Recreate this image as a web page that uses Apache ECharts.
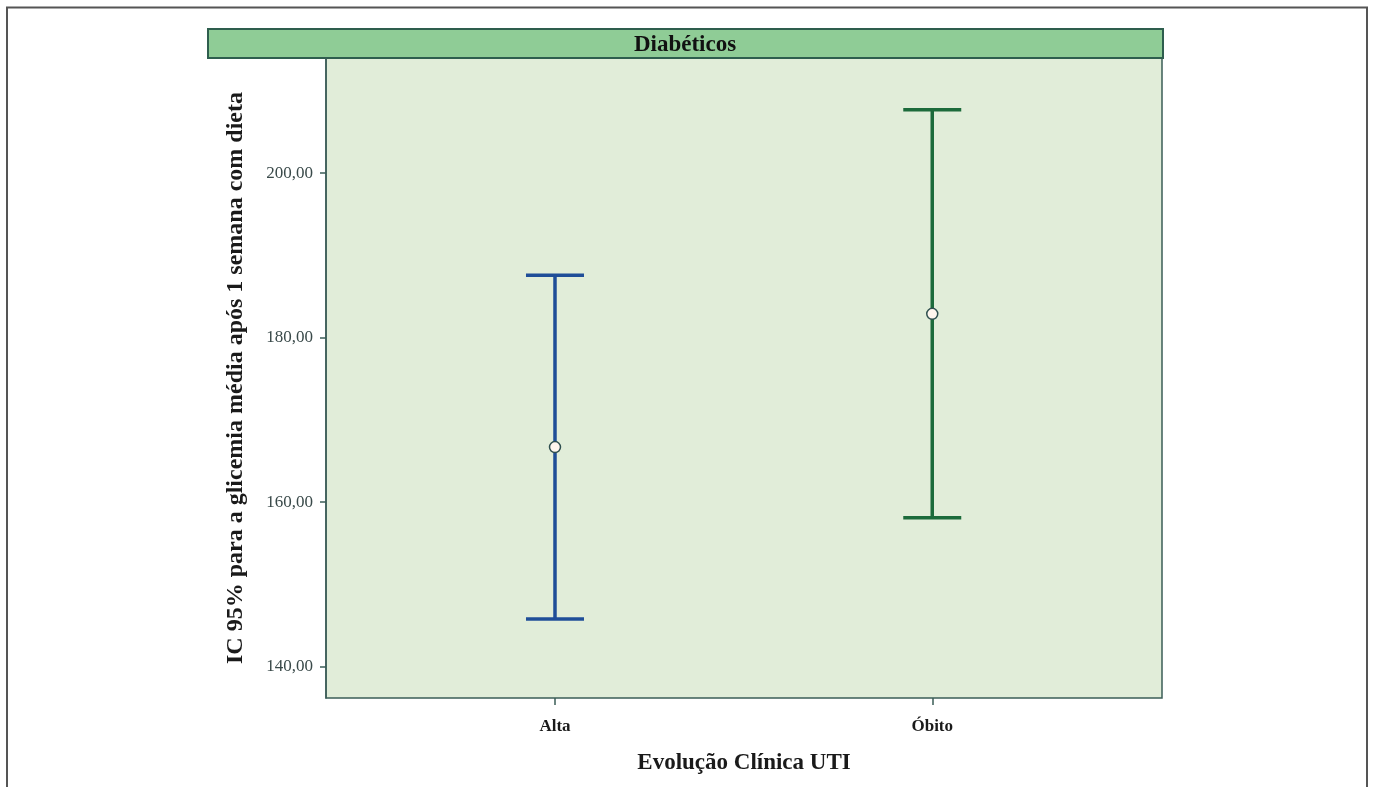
<!DOCTYPE html>
<html>
<head>
<meta charset="utf-8">
<title>Diabéticos</title>
<script src="https://cdn.jsdelivr.net/npm/echarts@6/dist/echarts.min.js"></script>
<style>
  html, body { margin: 0; padding: 0; background: #fff; }
  #chart_box { width: 1373px; height: 787px; }
</style>
</head>
<body>
<div id="chart_box"></div>
<script>
// dados (IC 95%)
const categories = ['Alta', 'Óbito'];
const means = [166.7, 182.9];
const lower = [145.8, 158.1];
const upper = [187.6, 207.7];
const yTicks = [140, 160, 180, 200];
const barColors = ['#1F4E98', '#1C6B3B'];

let myChart = echarts.init(document.getElementById('chart_box'));

let errData = categories.map(function (c, i) {
    return [i, lower[i], upper[i]];
});
let meanData = categories.map(function (c, i) {
    return [i, means[i]];
});

let myOption = {
    backgroundColor: '#fff',
    animation: false,
    grid: {
        left: 326,
        right: 211,
        top: 58,
        bottom: 89,
        show: true,
        backgroundColor: '#E1EDD9',
        borderColor: '#3B5D57',
        borderWidth: 1.5
    },
    graphic: [
        {
            type: 'rect',
            shape: { x: 7, y: 7.5, width: 1360, height: 900 },
            style: { fill: 'none', stroke: '#555', lineWidth: 2 }
        },
        {
            type: 'rect',
            shape: { x: 208, y: 29, width: 955, height: 29 },
            style: { fill: '#8FCC96', stroke: '#2E5E4E', lineWidth: 2 }
        },
        {
            type: 'text',
            x: 685,
            y: 45,
            style: {
                text: 'Diabéticos',
                font: 'bold 23px "Liberation Serif"',
                fill: '#111',
                align: 'center',
                verticalAlign: 'middle'
            }
        }
    ],
    xAxis: {
        type: 'value',
        min: -0.607,
        max: 1.609,
        name: 'Evolução Clínica UTI',
        nameLocation: 'middle',
        nameGap: 54,
        nameTextStyle: {
            fontFamily: 'Liberation Serif',
            fontWeight: 'bold',
            fontSize: 23,
            color: '#1a1a1a'
        },
        splitLine: { show: false },
        axisLine: { show: false, onZero: false },
        axisTick: {
            show: true,
            length: 7,
            customValues: [0, 1],
            lineStyle: { color: '#3B5D57', width: 1.5 }
        },
        axisLabel: {
            customValues: [0, 1],
            margin: 20,
            fontFamily: 'Liberation Serif',
            fontWeight: 'bold',
            fontSize: 17,
            color: '#1a1a1a',
            formatter: function (v) {
                return categories[Math.round(v)] || '';
            }
        }
    },
    yAxis: {
        type: 'value',
        min: 136.2,
        max: 214.0,
        name: 'IC 95% para a glicemia média após 1 semana com dieta',
        nameLocation: 'middle',
        nameGap: 78,
        nameTextStyle: {
            fontFamily: 'Liberation Serif',
            fontWeight: 'bold',
            fontSize: 24,
            color: '#1a1a1a'
        },
        splitLine: { show: false },
        axisLine: { show: true, onZero: false, lineStyle: { color: '#3B5D57', width: 1.5 } },
        axisTick: {
            show: true,
            length: 6,
            customValues: yTicks,
            lineStyle: { color: '#3B5D57', width: 1.5 }
        },
        axisLabel: {
            customValues: yTicks,
            margin: 13,
            fontFamily: 'Liberation Serif',
            fontSize: 17,
            color: '#3a4a4a',
            formatter: function (v) {
                return v.toFixed(2).replace('.', ',');
            }
        }
    },
    series: [
        {
            type: 'custom',
            data: errData,
            renderItem: function (params, api) {
                let x = api.value(0);
                let lo = api.coord([x, api.value(1)]);
                let hi = api.coord([x, api.value(2)]);
                let half = 29;
                let col = barColors[params.dataIndex];
                let st = { stroke: col, lineWidth: 3.5, fill: 'none' };
                return {
                    type: 'group',
                    children: [
                        { type: 'line', shape: { x1: lo[0], y1: lo[1], x2: hi[0], y2: hi[1] }, style: st },
                        { type: 'line', shape: { x1: hi[0] - half, y1: hi[1], x2: hi[0] + half, y2: hi[1] }, style: st },
                        { type: 'line', shape: { x1: lo[0] - half, y1: lo[1], x2: lo[0] + half, y2: lo[1] }, style: st }
                    ]
                };
            },
            z: 2
        },
        {
            type: 'scatter',
            data: meanData,
            symbol: 'circle',
            symbolSize: 11,
            itemStyle: {
                color: '#FFF6EE',
                borderColor: '#2F4F4F',
                borderWidth: 1.5,
                opacity: 1
            },
            z: 3
        }
    ]
};

myChart.setOption(myOption);
</script>
</body>
</html>
